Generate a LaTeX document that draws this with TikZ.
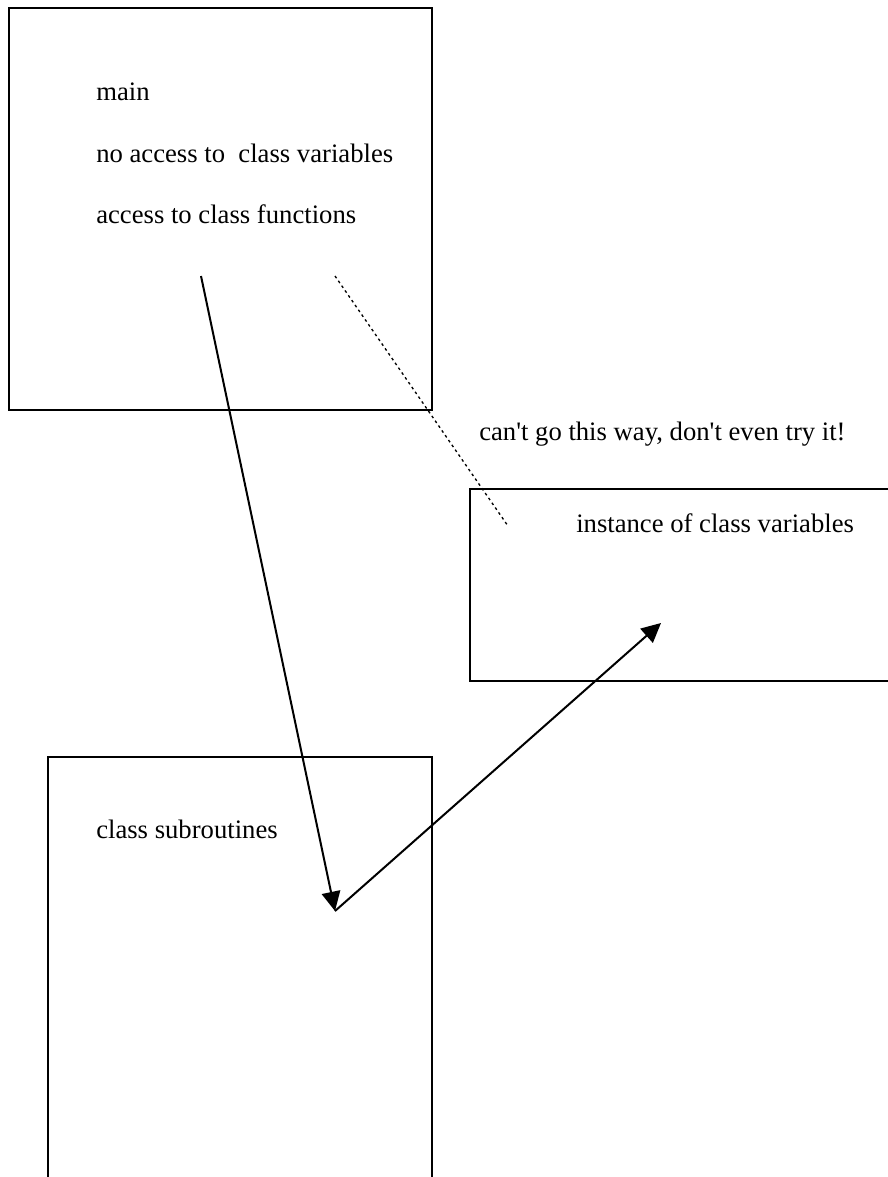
\documentclass[tikz,border=0pt]{standalone}
\usepackage{fontspec}
\setmainfont{Liberation Serif}
\usetikzlibrary{arrows.meta}
\begin{document}
\begin{tikzpicture}[x=0.75pt,y=-0.75pt,
  panel/.style={draw=black,line width=1.6pt,fill=none,inner sep=0pt,anchor=north west},
  label/.style={anchor=base west,inner sep=0pt,font=\fontsize{20}{24}\selectfont},
  callarrow/.style={line width=1.5pt,-{Triangle[length=14.5pt,width=14pt]}},
  forbidden/.style={line width=1pt,dash pattern=on 2pt off 2.4pt}]
  \useasboundingbox (0,0) rectangle (888,1177);
  \clip (0,0) rectangle (888,1177);

  % the three memory regions (two run past the page edge)
  \node[panel,minimum width={423*0.75pt},minimum height={402*0.75pt}]
    (mainbox) at (8,7) {};
  \node[panel,minimum width={450*0.75pt},minimum height={192*0.75pt}]
    (instbox) at (469,488) {};
  \node[panel,minimum width={384*0.75pt},minimum height={460*0.75pt}]
    (subbox) at (47,756) {};

  % texts
  \node[label] (tmain) at (96,101) {main};
  \node[label] (tnovar) at (96,162) {no access to\ \ class variables};
  \node[label] (tfunc) at (96,223) {access to class functions};
  \node[label] (twarn) at (479,440)
    {can\textquotesingle t go this way, don\textquotesingle t even try it!};
  \node[label] (tinst) at (576,532) {instance of class variables};
  \node[label] (tsub) at (96,838) {class subroutines};

  % connector end points
  \coordinate (callfrom) at (201,276);
  \coordinate (callto) at (335,911);
  \coordinate (useto) at (661,623);
  \coordinate (nofrom) at (335,276);
  \coordinate (noto) at (508,526);

  \draw[callarrow] (callfrom) -- (callto);
  \draw[callarrow] (callto) -- (useto);
  \draw[forbidden] (nofrom) -- (noto);
\end{tikzpicture}
\end{document}
